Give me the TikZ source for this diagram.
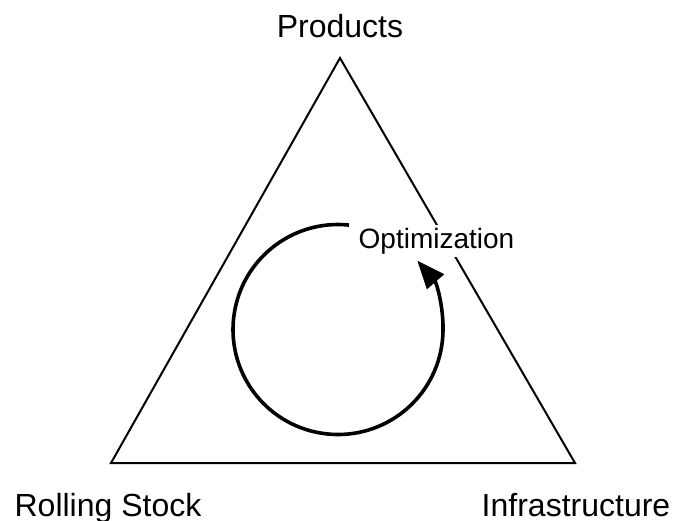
\documentclass[tikz,border=0pt]{standalone}
\usepackage{fontspec}
\setmainfont{Liberation Sans}
\usetikzlibrary{arrows.meta}
\begin{document}
\begin{tikzpicture}[x=1pt,y=-1pt,
  label/.style={font=\fontsize{32}{36}\selectfont, anchor=base, inner sep=0pt},
  tri/.style={line width=2pt, line join=miter},
  cycle/.style={line width=3.6pt, -{Triangle[length=28pt,width=22pt]}}]
\useasboundingbox (0,0) rectangle (675,520);
\coordinate (P) at (340,58);
\coordinate (R) at (111,463);
\coordinate (I) at (575,463);
\draw[tri] (P) -- (R) -- (I) -- cycle;
\node[label] (prod) at (340,37) {Products};
\node[label] (roll) at (108,516) {Rolling Stock};
\node[label] (infra) at (576,516) {Infrastructure};
\coordinate (C) at (338,329.5);
\draw[cycle] ([shift={(-84:105)}]C) arc[start angle=-84, end angle=-401, radius=105];
\node[font=\fontsize{28}{32}\selectfont, anchor=base, fill=white, inner sep=3pt] (opt) at (436.5,248) {Optimization};
\end{tikzpicture}
\end{document}
